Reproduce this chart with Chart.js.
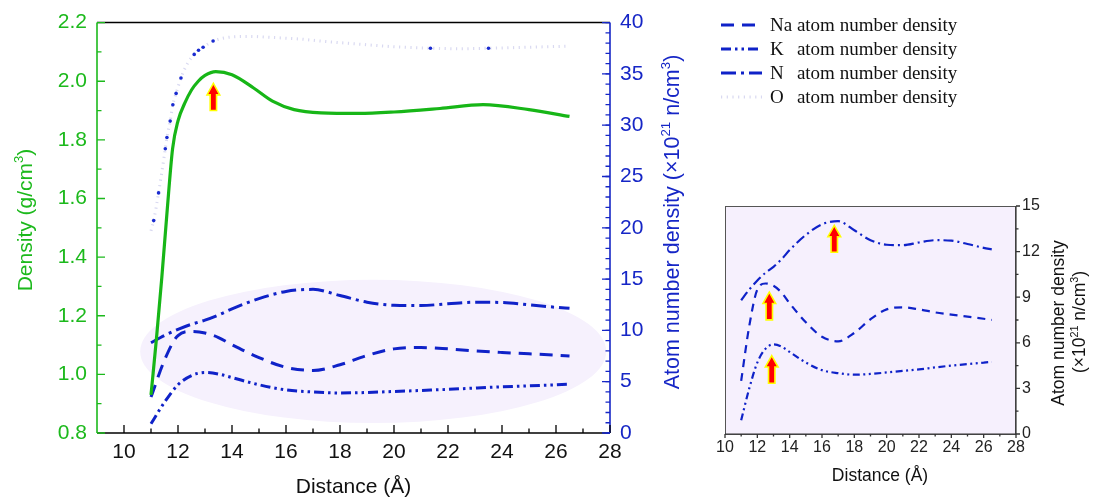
<!DOCTYPE html>
<html>
<head>
<meta charset="utf-8">
<title>Density and atom number density vs distance</title>
<script src="https://cdn.jsdelivr.net/npm/chart.js@4.4.1/dist/chart.umd.min.js"></script>
<style>
  html, body { margin: 0; padding: 0; background: #fff; }
  #wrap { position: relative; width: 1095px; height: 500px; overflow: hidden; }
  #mainChart { position: absolute; left: 0; top: 0; }
  #insetChart { position: absolute; left: 680px; top: 190px; }
</style>
</head>
<body>
<div id="wrap">
  <canvas id="mainChart" width="1095" height="500"></canvas>
  <canvas id="insetChart" width="415" height="310"></canvas>
</div>
<script>
// distance (Å) shared by the Na / K / N profiles
const distance = [11, 11.5, 12, 12.5, 13, 13.5, 14, 15, 16, 17, 18, 19, 20, 21, 22, 23, 24, 25, 26, 26.5];
const naDensity = [3.5, 7.1, 9.5, 9.9, 9.75, 9.3, 8.6, 7.35, 6.4, 6.1, 6.65, 7.55, 8.2, 8.33, 8.2, 8.0, 7.85, 7.72, 7.58, 7.5];
const kDensity = [0.9, 3.0, 4.7, 5.6, 5.9, 5.75, 5.4, 4.7, 4.2, 4.0, 3.9, 3.95, 4.05, 4.15, 4.25, 4.38, 4.5, 4.6, 4.7, 4.75];
const nDensity = [8.8, 9.5, 10.1, 10.6, 11.0, 11.5, 12.1, 13.1, 13.8, 14.0, 13.4, 12.75, 12.45, 12.42, 12.6, 12.75, 12.72, 12.5, 12.25, 12.15];

// mass density (g/cm3)
const densityX = [11, 11.2, 11.4, 11.6, 11.8, 12, 12.25, 12.5, 12.75, 13, 13.4, 14, 14.8, 15.5, 16.3, 17.3, 18.7, 20, 21.7, 23.3, 25, 26.5];
const densityVal = [0.93, 1.12, 1.33, 1.56, 1.77, 1.865, 1.925, 1.97, 2.0, 2.02, 2.033, 2.022, 1.977, 1.932, 1.903, 1.892, 1.89, 1.895, 1.907, 1.92, 1.903, 1.88];

// O atom number density, with the sampled points that carry a marker
const oX = [11.0, 11.1, 11.28, 11.53, 11.59, 11.71, 11.81, 11.93, 12.11, 12.35, 12.6, 12.76, 12.93, 13.3, 14.0, 14.7, 15.5, 16.5, 17.5, 18.7, 20, 21.35, 22.5, 23.5, 25, 26.4];
const oVal = [19.7, 20.7, 23.4, 27.7, 28.8, 30.4, 32.0, 33.1, 34.6, 36.0, 36.9, 37.3, 37.6, 38.2, 38.6, 38.65, 38.55, 38.4, 38.15, 37.9, 37.65, 37.5, 37.45, 37.5, 37.6, 37.7];
const oMarked = [11.1, 11.28, 11.53, 11.59, 11.71, 11.81, 11.93, 12.11, 12.6, 12.76, 12.93, 13.3, 21.35, 23.5];

// tick labels
const xTicks = [10, 12, 14, 16, 18, 20, 22, 24, 26, 28];
const densityTicks = [0.8, 1.0, 1.2, 1.4, 1.6, 1.8, 2.0, 2.2];
const atomTicks = [0, 5, 10, 15, 20, 25, 30, 35, 40];
const insetTicks = [0, 3, 6, 9, 12, 15];

// peak markers (in data units)
const densityArrows = [{ x: 13.31, tip: 1.987, base: 1.903 }];
const insetArrows = [
  { x: 12.74, tip: 9.23, base: 7.56 },
  { x: 12.89, tip: 5.05, base: 3.39 },
  { x: 16.76, tip: 13.62, base: 12.01 }
];

const SANS = '"Liberation Sans", Arial, Helvetica, sans-serif';
const SERIF = '"Liberation Serif", "Times New Roman", serif';
const GREEN = "#1cb91c";
const BLUE = "#1626c6";
const LINE_BLUE = "#0f22c8";

const pts = (xs, ys) => xs.map((x, i) => ({ x: x, y: ys[i] }));
const range = (a, b, step) => {
  const out = [];
  for (let v = a; v <= b + 1e-9; v += step) out.push(+v.toFixed(4));
  return out;
};
const fixTicks = (values) => (scale) => { scale.ticks = values.map((v) => ({ value: v })); };

// short ticks along an edge of the chart area; len > 0 points into the plot
function tickMarks(ctx, scale, values, edge, len, color) {
  const a = scale.chart.chartArea;
  ctx.save();
  ctx.strokeStyle = color;
  ctx.lineWidth = 1.3;
  ctx.beginPath();
  values.forEach((v) => {
    const p = scale.getPixelForValue(v);
    if (edge === "left") { ctx.moveTo(a.left, p); ctx.lineTo(a.left + len, p); }
    if (edge === "right") { ctx.moveTo(a.right, p); ctx.lineTo(a.right - len, p); }
    if (edge === "bottom") { ctx.moveTo(p, a.bottom); ctx.lineTo(p, a.bottom - len); }
  });
  ctx.stroke();
  ctx.restore();
}

function line(ctx, x1, y1, x2, y2, color, width) {
  ctx.save();
  ctx.strokeStyle = color;
  ctx.lineWidth = width;
  ctx.beginPath();
  ctx.moveTo(x1, y1);
  ctx.lineTo(x2, y2);
  ctx.stroke();
  ctx.restore();
}

// text made of runs, some of them superscript; centred on (cx, cy)
function richText(ctx, parts, cx, cy, size, color, angle) {
  ctx.save();
  ctx.translate(cx, cy);
  ctx.rotate(angle || 0);
  ctx.fillStyle = color;
  ctx.textAlign = "left";
  ctx.textBaseline = "alphabetic";
  let total = 0;
  const runs = parts.map(([text, sup]) => {
    const fs = sup ? size * 0.62 : size;
    ctx.font = fs + "px " + SANS;
    const w = ctx.measureText(text).width;
    total += w;
    return { text, sup, fs, w };
  });
  let x = -total / 2;
  runs.forEach((r) => {
    ctx.font = r.fs + "px " + SANS;
    ctx.fillText(r.text, x, size * 0.36 - (r.sup ? size * 0.4 : 0));
    x += r.w;
  });
  ctx.restore();
}

function drawArrow(ctx, x, yTip, yBase) {
  const headH = 9, headW = 5, shaftW = 2.4;
  ctx.save();
  ctx.beginPath();
  ctx.moveTo(x, yTip);
  ctx.lineTo(x + headW, yTip + headH);
  ctx.lineTo(x + shaftW, yTip + headH);
  ctx.lineTo(x + shaftW, yBase);
  ctx.lineTo(x - shaftW, yBase);
  ctx.lineTo(x - shaftW, yTip + headH);
  ctx.lineTo(x - headW, yTip + headH);
  ctx.closePath();
  ctx.lineJoin = "miter";
  ctx.strokeStyle = "#ffff00";
  ctx.lineWidth = 3.2;
  ctx.stroke();
  ctx.fillStyle = "#ff0000";
  ctx.fill();
  ctx.restore();
}

// everything drawn around the main plot
const mainDecor = {
  id: "mainDecor",
  beforeDatasetsDraw(chart) {
    const { ctx, scales } = chart;
    const cx = scales.x.getPixelForValue(19.23);
    const cy = scales.y2.getPixelForValue(7.95);
    const rx = scales.x.getPixelForValue(19.23 + 8.63) - cx;
    const ry = cy - scales.y2.getPixelForValue(7.95 + 6.98);
    ctx.save();
    ctx.fillStyle = "#f6f1fd";
    ctx.beginPath();
    ctx.ellipse(cx, cy, rx, ry, 0, 0, Math.PI * 2);
    ctx.fill();
    ctx.restore();
  },
  afterDatasetsDraw(chart) {
    const { ctx, scales } = chart;
    densityArrows.forEach((a) => {
      drawArrow(ctx, scales.x.getPixelForValue(a.x), scales.y.getPixelForValue(a.tip), scales.y.getPixelForValue(a.base));
    });
  },
  afterDraw(chart) {
    const { ctx, chartArea: a, scales } = chart;
    line(ctx, a.left, a.top, a.right, a.top, "#000", 1.5);
    line(ctx, a.left, a.bottom, a.right, a.bottom, "#000", 1.5);
    line(ctx, a.left, a.top, a.left, a.bottom, GREEN, 1.6);
    line(ctx, a.right, a.top, a.right, a.bottom, BLUE, 1.6);

    tickMarks(ctx, scales.x, xTicks, "bottom", 8, "#000");
    tickMarks(ctx, scales.x, range(11, 27, 2), "bottom", 4.5, "#000");
    tickMarks(ctx, scales.y, densityTicks, "left", 8, GREEN);
    tickMarks(ctx, scales.y, range(0.9, 2.1, 0.2), "left", 4.5, GREEN);
    tickMarks(ctx, scales.y2, atomTicks, "right", 8, BLUE);
    tickMarks(ctx, scales.y2, range(0, 40, 1), "right", 4.5, BLUE);

    richText(ctx, [["Density (g/cm"], ["3", true], [")"]], 24, 220, 21, GREEN, -Math.PI / 2);
    richText(ctx, [["Atom number density (\u00d710"], ["21", true], [" n/cm"], ["3", true], [")"]], 671, 222, 21.5, BLUE, -Math.PI / 2);
    richText(ctx, [["Distance (\u00c5)"]], (a.left + a.right) / 2, 485, 21, "#111");

    // legend for the atom number density curves
    const rows = [1, 2, 3, 4];
    ctx.save();
    ctx.font = "19px " + SERIF;
    const restX = 770 + ctx.measureText("Na ").width;
    rows.forEach((idx, i) => {
      const ds = chart.data.datasets[idx];
      const y = 25 + i * 24;
      ctx.save();
      ctx.setLineDash(ds.borderDash || []);
      ctx.strokeStyle = ds.borderColor;
      ctx.lineWidth = ds.borderWidth;
      ctx.beginPath();
      ctx.moveTo(721, y);
      ctx.lineTo(762, y);
      ctx.stroke();
      ctx.restore();
      const el = ds.label.split(" ")[0];
      ctx.fillStyle = "#111";
      ctx.textBaseline = "middle";
      ctx.fillText(el, 770, y + 1);
      ctx.fillText(ds.label.slice(el.length + 1), restX, y + 1);
    });
    ctx.restore();
  }
};

new Chart(document.getElementById("mainChart"), {
  type: "line",
  data: {
    datasets: [
      {
        label: "Density",
        data: pts(densityX, densityVal),
        yAxisID: "y",
        borderColor: "#17b617",
        borderWidth: 3.2,
        cubicInterpolationMode: "monotone",
        pointRadius: 0
      },
      {
        label: "Na atom number density",
        data: pts(distance, naDensity),
        yAxisID: "y2",
        borderColor: LINE_BLUE,
        borderWidth: 3,
        borderDash: [13, 8],
        cubicInterpolationMode: "monotone",
        pointRadius: 0
      },
      {
        label: "K atom number density",
        data: pts(distance, kDensity),
        yAxisID: "y2",
        borderColor: LINE_BLUE,
        borderWidth: 3,
        borderDash: [10, 4, 2.5, 4, 2.5, 4],
        cubicInterpolationMode: "monotone",
        pointRadius: 0
      },
      {
        label: "N atom number density",
        data: pts(distance, nDensity),
        yAxisID: "y2",
        borderColor: LINE_BLUE,
        borderWidth: 3,
        borderDash: [15, 5, 3, 5],
        cubicInterpolationMode: "monotone",
        pointRadius: 0
      },
      {
        label: "O atom number density",
        data: pts(oX, oVal),
        yAxisID: "y2",
        borderColor: "#d9d9f1",
        borderWidth: 3,
        borderDash: [1.2, 4.5],
        cubicInterpolationMode: "monotone",
        pointRadius: (c) => (c.raw && oMarked.includes(c.raw.x) ? 1.8 : 0),
        pointBackgroundColor: "#1a2bd0",
        pointBorderWidth: 0
      }
    ]
  },
  options: {
    responsive: false,
    animation: false,
    events: [],
    layout: { padding: { top: 21, left: 0, right: 0, bottom: 0 } },
    plugins: { legend: { display: false }, tooltip: { enabled: false } },
    scales: {
      x: {
        type: "linear",
        min: 9,
        max: 28,
        grid: { display: false, drawTicks: false },
        border: { display: false },
        afterBuildTicks: fixTicks(xTicks),
        afterFit: (s) => { s.height = 67; },
        ticks: { color: "#111", padding: 7, font: { family: SANS, size: 21 }, callback: (v) => String(v) }
      },
      y: {
        type: "linear",
        position: "left",
        min: 0.8,
        max: 2.2,
        grid: { display: false, drawTicks: false },
        border: { display: false },
        afterBuildTicks: fixTicks(densityTicks),
        afterFit: (s) => { s.width = 97; },
        ticks: { color: GREEN, padding: 10, font: { family: SANS, size: 21 }, callback: (v) => v.toFixed(1) }
      },
      y2: {
        type: "linear",
        position: "right",
        min: 0,
        max: 40,
        grid: { display: false, drawTicks: false },
        border: { display: false },
        afterBuildTicks: fixTicks(atomTicks),
        afterFit: (s) => { s.width = 485; },
        ticks: { color: BLUE, padding: 10, font: { family: SANS, size: 21 }, callback: (v) => String(v) }
      }
    }
  },
  plugins: [mainDecor]
});

// inset: the three cation / N profiles on their own axis
const insetDecor = {
  id: "insetDecor",
  beforeDatasetsDraw(chart) {
    const { ctx, chartArea: a } = chart;
    ctx.save();
    ctx.fillStyle = "#f6f0fd";
    ctx.fillRect(a.left, a.top, a.right - a.left, a.bottom - a.top);
    ctx.restore();
  },
  afterDatasetsDraw(chart) {
    const { ctx, scales } = chart;
    insetArrows.forEach((a) => {
      drawArrow(ctx, scales.x.getPixelForValue(a.x), scales.y.getPixelForValue(a.tip), scales.y.getPixelForValue(a.base));
    });
  },
  afterDraw(chart) {
    const { ctx, chartArea: a, scales } = chart;
    ctx.save();
    ctx.strokeStyle = "#555";
    ctx.lineWidth = 1;
    ctx.strokeRect(a.left + 0.5, a.top + 0.5, a.right - a.left - 1, a.bottom - a.top);
    ctx.restore();
    line(ctx, a.right, a.top, a.right, a.bottom, "#333", 1.2);
    line(ctx, a.left, a.bottom, a.right, a.bottom, "#333", 1.2);
    tickMarks(ctx, scales.x, xTicks, "bottom", -4, "#333");
    tickMarks(ctx, scales.x, range(11, 27, 2), "bottom", -2.5, "#333");
    tickMarks(ctx, scales.y, insetTicks, "right", -4, "#333");
    tickMarks(ctx, scales.y, range(1.5, 13.5, 3), "right", -2.5, "#333");

    richText(ctx, [["Distance (\u00c5)"]], 200, 285, 17.5, "#111");
    richText(ctx, [["Atom number density"]], 378, 133, 17.5, "#111", -Math.PI / 2);
    richText(ctx, [["(\u00d710"], ["21", true], [" n/cm"], ["3", true], [")"]], 399, 132, 17.5, "#111", -Math.PI / 2);
  }
};

new Chart(document.getElementById("insetChart"), {
  type: "line",
  data: {
    datasets: [
      {
        label: "Na atom number density",
        data: pts(distance, naDensity),
        borderColor: LINE_BLUE,
        borderWidth: 2.2,
        borderDash: [8, 6],
        cubicInterpolationMode: "monotone",
        pointRadius: 0
      },
      {
        label: "K atom number density",
        data: pts(distance, kDensity),
        borderColor: LINE_BLUE,
        borderWidth: 2.2,
        borderDash: [7, 3.5, 2, 3.5, 2, 3.5],
        cubicInterpolationMode: "monotone",
        pointRadius: 0
      },
      {
        label: "N atom number density",
        data: pts(distance, nDensity),
        borderColor: LINE_BLUE,
        borderWidth: 2.2,
        borderDash: [10, 4, 2, 4],
        cubicInterpolationMode: "monotone",
        pointRadius: 0
      }
    ]
  },
  options: {
    responsive: false,
    animation: false,
    events: [],
    layout: { padding: { top: 16, left: 45, right: 0, bottom: 0 } },
    plugins: { legend: { display: false }, tooltip: { enabled: false } },
    scales: {
      x: {
        type: "linear",
        min: 10,
        max: 28,
        grid: { display: false, drawTicks: false },
        border: { display: false },
        afterBuildTicks: fixTicks(xTicks),
        afterFit: (s) => { s.height = 66; },
        ticks: { color: "#222", padding: 4, font: { family: SANS, size: 16 }, callback: (v) => String(v) }
      },
      y: {
        type: "linear",
        position: "right",
        min: 0,
        max: 15,
        grid: { display: false, drawTicks: false },
        border: { display: false },
        afterBuildTicks: fixTicks(insetTicks),
        afterFit: (s) => { s.width = 79; },
        ticks: { color: "#222", padding: 6, font: { family: SANS, size: 16 }, callback: (v) => String(v) }
      }
    }
  },
  plugins: [insetDecor]
});
</script>
</body>
</html>
